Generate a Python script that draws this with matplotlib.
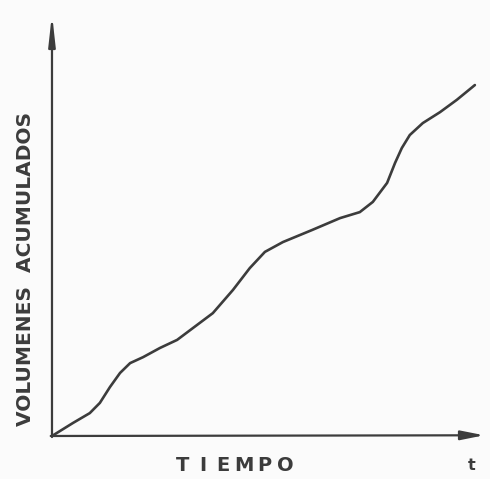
import matplotlib
matplotlib.use("Agg")
import matplotlib.pyplot as plt
import numpy as np

# tiempo y volumenes acumulados
tiempo = [0, 0.50, 0.90, 1.14, 1.38, 1.62, 1.86, 2.17, 2.57, 2.98, 3.36, 3.83,
          4.31, 4.71, 5.07, 5.50, 6.19, 6.86, 7.33, 7.64, 7.98, 8.17, 8.33,
          8.52, 8.83, 9.24, 9.64, 10.07]
volumen = [0, 0.37, 0.65, 0.94, 1.39, 1.79, 2.07, 2.24, 2.50, 2.73, 3.07, 3.49,
           4.15, 4.77, 5.23, 5.51, 5.85, 6.19, 6.36, 6.65, 7.19, 7.76, 8.18,
           8.55, 8.89, 9.20, 9.55, 9.97]

x_label = "TIEMPO"
y_label = "VOLUMENES  ACUMULADOS"
t_label = "t"

ink = "#3c3c3c"

fig = plt.figure(figsize=(4.9, 4.79), dpi=100)
fig.patch.set_facecolor("#fbfbfb")
ax = fig.add_axes([0, 0, 1, 1])
ax.set_facecolor("#fbfbfb")
ax.set_xlim(-1.238, 10.43)
ax.set_ylim(-1.222, 12.386)
ax.axis("off")

# ejes con flecha
ax.annotate("", xy=(0, 11.99), xytext=(0, -0.03),
            arrowprops=dict(arrowstyle="-|>,head_length=1.8,head_width=0.2",
                            color=ink, lw=1.6, shrinkA=0, shrinkB=0))
ax.annotate("", xy=(10.29, 0.02), xytext=(-0.03, 0),
            arrowprops=dict(arrowstyle="-|>,head_length=1.4,head_width=0.28",
                            color=ink, lw=1.6, shrinkA=0, shrinkB=0))

# curva
ax.plot(tiempo, volumen, color=ink, lw=1.9, solid_joinstyle="round",
        solid_capstyle="round")

# textos
ax.text(-0.64, 4.75, y_label, rotation=90, ha="center", va="center",
        fontsize=14.5, fontweight="bold", color=ink)
letras = list(x_label)
xs = np.linspace(3.1, 5.55, len(letras))
for xi, ch in zip(xs, letras):
    ax.text(xi, -0.84, ch, ha="center", va="center", fontsize=14,
            fontweight="bold", color=ink)
ax.text(10.0, -0.84, t_label, ha="center", va="center", fontsize=11.5,
        fontweight="bold", color=ink)

fig.savefig("out.png", dpi=100, facecolor=fig.get_facecolor())
